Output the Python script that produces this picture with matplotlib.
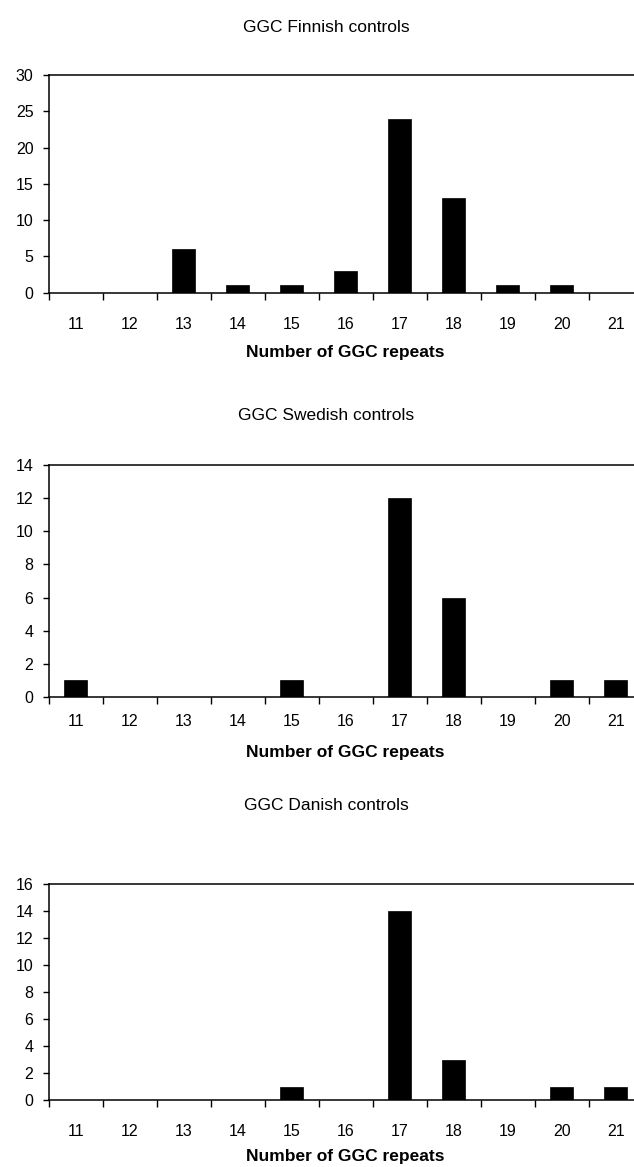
import numpy as np
import matplotlib
matplotlib.use("Agg")
import matplotlib.pyplot as plt

plt.rcParams['font.family'] = ['Liberation Sans', 'DejaVu Sans']

repeats = [11, 12, 13, 14, 15, 16, 17, 18, 19, 20, 21]
finnish = [0, 0, 6, 1, 1, 3, 24, 13, 1, 1, 0]
swedish = [1, 0, 0, 0, 1, 0, 12, 6, 0, 1, 1]
danish = [0, 0, 0, 0, 1, 0, 14, 3, 0, 1, 1]

titles = ["GGC Finnish controls", "GGC Swedish controls", "GGC Danish controls"]
series = [finnish, swedish, danish]
ymax = [30, 14, 16]
ystep = [5, 2, 2]

W, H = 634, 1167
# pixel layout: (axes top, axes bottom, title y, tick label y, xlabel y)
layout = [
    (75, 292.7, 27, 323, 352),
    (465, 697, 415, 720, 752),
    (884, 1100, 805, 1130, 1157),
]
left_px = 48.7
right_px = 642.7
tick_fs = 11.5
text_fs = 12.5


def draw_panel(fig, values, title, top, ystp, lay):
    ax_top, ax_bot, title_y, tick_y, xlabel_y = lay
    ax = fig.add_axes([left_px / W, 1 - ax_bot / H,
                       (right_px - left_px) / W, (ax_bot - ax_top) / H])
    x = np.arange(len(repeats))
    ax.bar(x, values, width=0.43, color='black', edgecolor='black', linewidth=0.5)
    ax.set_xlim(-0.5, len(repeats) - 0.5)
    ax.set_ylim(0, top)
    ax.set_yticks(np.arange(0, top + 1, ystp))
    ax.set_xticks(x)
    ax.set_xticklabels([str(r) for r in repeats])
    ax.set_xticks(np.arange(-0.5, len(repeats), 1.0), minor=True)
    # pad is in points; label centre should land at tick_y
    pad_px = tick_y - ax_bot - 0.4 * tick_fs * 100 / 72
    ax.tick_params(axis='x', which='major', length=0,
                   pad=pad_px * 0.72, labelsize=tick_fs)
    ax.tick_params(axis='x', which='minor', length=5, width=1, direction='out')
    ax.tick_params(axis='y', length=4, width=1, direction='out',
                   labelsize=tick_fs, pad=7)
    for s in ax.spines.values():
        s.set_linewidth(1.1)
        s.set_color('black')
    fig.text(326 / W, 1 - title_y / H, title,
             ha='center', va='center', fontsize=text_fs)
    fig.text(345 / W, 1 - xlabel_y / H, "Number of GGC repeats",
             ha='center', va='center', fontsize=text_fs, fontweight='bold')
    return ax


def main():
    fig = plt.figure(figsize=(W / 100, H / 100), dpi=100)
    for i in range(3):
        draw_panel(fig, series[i], titles[i], ymax[i], ystep[i], layout[i])
    fig.savefig('out.png', dpi=100)


if __name__ == "__main__":
    main()
